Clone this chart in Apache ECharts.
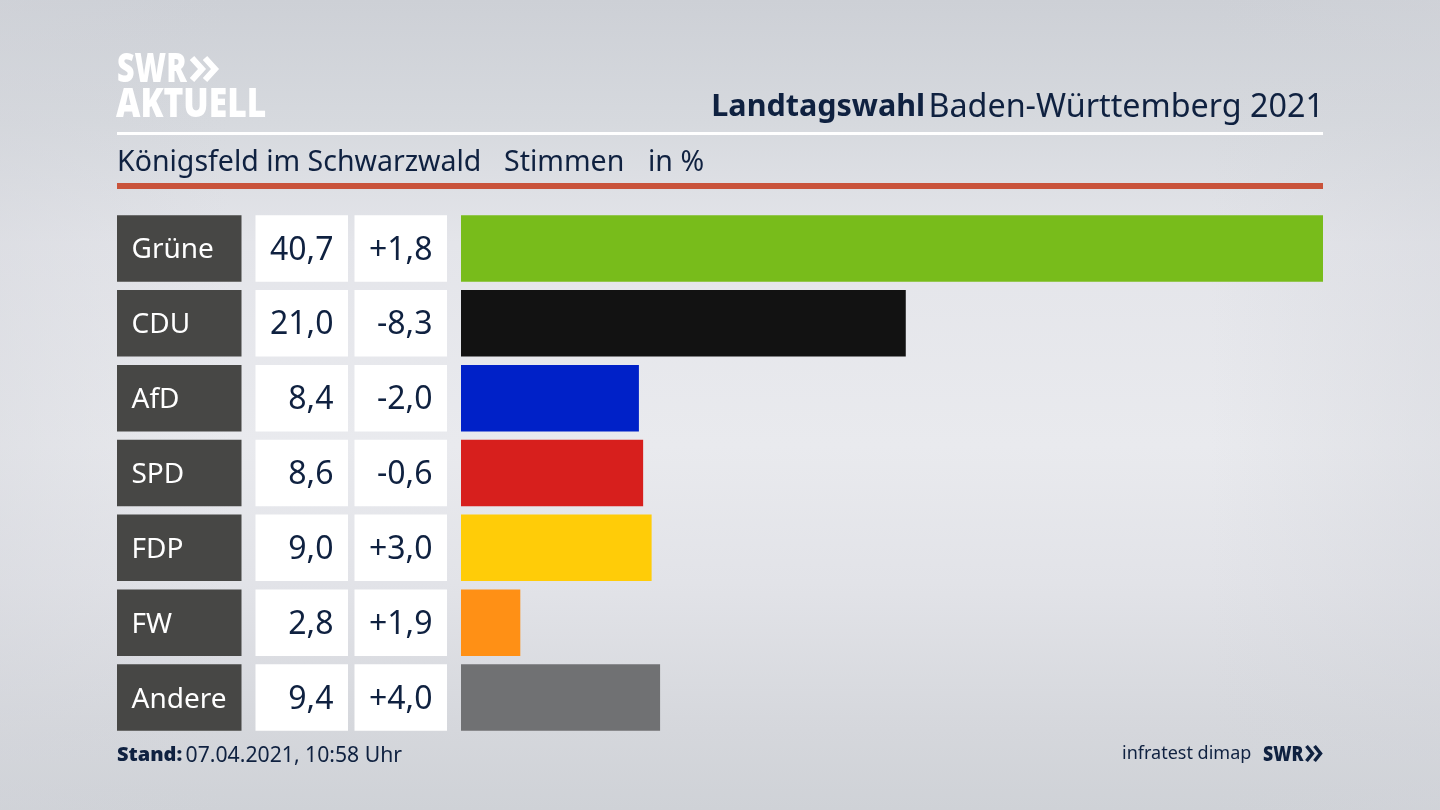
<!DOCTYPE html>
<html>
<head>
<meta charset="utf-8">
<title>Landtagswahl Baden-Württemberg 2021</title>
<script src="https://cdn.jsdelivr.net/npm/echarts@6/dist/echarts.min.js"></script>
<style>
  html, body { margin: 0; padding: 0; }
  body {
    width: 1440px;
    height: 810px;
    overflow: hidden;
    background:
      linear-gradient(90deg, rgba(210,212,218,.4) 0%, rgba(210,212,218,0) 16%, rgba(210,212,218,0) 84%, rgba(210,212,218,.4) 100%),
      linear-gradient(180deg, #cdd0d6 0%, #d6d9de 15%, #e4e5ea 30%, #e9eaee 55%, #e2e3e8 72%, #d5d7dc 90%, #cfd2d7 100%);
  }
  #chart { width: 1440px; height: 810px; }
</style>
</head>
<body>
<div id="chart"></div>
<script>
var parties = ["Grüne", "CDU", "AfD", "SPD", "FDP", "FW", "Andere"];
var shares = [40.7, 21.0, 8.4, 8.6, 9.0, 2.8, 9.4];
var changes = [1.8, -8.3, -2.0, -0.6, 3.0, 1.9, 4.0];
var partyColors = ["#78bc1b", "#121212", "#0021c8", "#d71f1d", "#ffcc08", "#ff9015", "#707173"];

var NAVY = "#0f2140";
var FONT = '"Noto Sans", "Open Sans", sans-serif';

function deNumber(v) {
  return v.toFixed(1).replace(".", ",");
}

function deChange(v) {
  return (v > 0 ? "+" : "") + deNumber(v);
}

// alle Tabellenspalten haben dieselbe Zeilenteilung wie die Balken
function yAxisFor(gridIndex) {
  return {
    type: "category",
    gridIndex: gridIndex,
    data: parties,
    inverse: true,
    show: false,
  };
}

function xAxisFor(gridIndex, max) {
  return { type: "value", gridIndex: gridIndex, min: 0, max: max, show: false };
}

// Spalte aus vollen Balken, der Text kommt als Label
function cellSeries(gridIndex, color, textColor, position, texts) {
  return {
    type: "bar",
    xAxisIndex: gridIndex,
    yAxisIndex: gridIndex,
    barWidth: 66.5,
    silent: true,
    itemStyle: { color: color },
    label: {
      show: true,
      position: position,
      distance: 14.5,
      offset: [0, 2],
      color: textColor,
      fontFamily: FONT,
      fontSize: position === "insideLeft" ? 28 : 32,
      formatter: function (p) {
        return texts[p.dataIndex];
      },
    },
    data: parties.map(function () {
      return 1;
    }),
  };
}

// schmale Logoschrift, die Breite kommt ueber scaleX
function logoText(text, x, y, size, scaleX, color) {
  return {
    type: "text",
    x: x,
    y: y,
    scaleX: scaleX,
    style: {
      text: text,
      fill: color,
      font: "900 " + size + "px " + FONT,
      textVerticalAlign: "middle",
    },
  };
}

function chevron(x, top, w, h, lineWidth, color) {
  return {
    type: "polyline",
    shape: { points: [[x, top], [x + w, top + h / 2], [x, top + h]] },
    style: { stroke: color, lineWidth: lineWidth, fill: null },
  };
}

var chartDom = document.getElementById("chart");
var myChart = echarts.init(chartDom, null, { renderer: "canvas" });

var gridTop = 211;
var gridHeight = 524;

var option = {
  animation: false,
  backgroundColor: "transparent",
  grid: [
    { left: 117, top: gridTop, width: 124.5, height: gridHeight },
    { left: 255.5, top: gridTop, width: 92.5, height: gridHeight },
    { left: 354.5, top: gridTop, width: 92.5, height: gridHeight },
    { left: 461, top: gridTop, width: 862, height: gridHeight },
  ],
  xAxis: [xAxisFor(0, 1), xAxisFor(1, 1), xAxisFor(2, 1), xAxisFor(3, 40.7)],
  yAxis: [yAxisFor(0), yAxisFor(1), yAxisFor(2), yAxisFor(3)],
  series: [
    cellSeries(0, "#474745", "#ffffff", "insideLeft", parties),
    cellSeries(1, "#ffffff", NAVY, "insideRight", shares.map(deNumber)),
    cellSeries(2, "#ffffff", NAVY, "insideRight", changes.map(deChange)),
    {
      type: "bar",
      xAxisIndex: 3,
      yAxisIndex: 3,
      barWidth: 66.5,
      silent: true,
      data: shares.map(function (v, i) {
        return { value: v, itemStyle: { color: partyColors[i] } };
      }),
    },
  ],
  graphic: [
    // Logo oben links
    logoText("SWR", 117, 71, 40, 0.76, "#ffffff"),
    chevron(192, 58, 10, 22, 6, "#ffffff"),
    chevron(205, 58, 10, 22, 6, "#ffffff"),
    logoText("AKTUELL", 116, 106, 40, 0.84, "#ffffff"),
    // Kopfzeile
    {
      type: "text",
      x: 1324,
      y: 107.5,
      style: {
        text: "{b|Landtagswahl} {r|Baden-Württemberg 2021}",
        textAlign: "right",
        textVerticalAlign: "middle",
        fill: NAVY,
        rich: {
          b: { font: "bold 30.5px " + FONT, fill: NAVY },
          r: { font: "32.3px " + FONT, fill: NAVY },
        },
      },
    },
    {
      type: "rect",
      shape: { x: 117, y: 132, width: 1206, height: 3 },
      style: { fill: "#ffffff" },
    },
    {
      type: "text",
      left: 117,
      top: 148,
      style: { text: "Königsfeld im Schwarzwald", fill: NAVY, font: "28.5px " + FONT },
    },
    {
      type: "text",
      left: 504,
      top: 148,
      style: { text: "Stimmen", fill: NAVY, font: "28.5px " + FONT },
    },
    {
      type: "text",
      left: 648,
      top: 148,
      style: { text: "in %", fill: NAVY, font: "28.5px " + FONT },
    },
    {
      type: "rect",
      shape: { x: 117, y: 183, width: 1206, height: 6 },
      style: { fill: "#c9533b" },
    },
    // Fusszeile
    {
      type: "text",
      left: 117,
      top: 745,
      style: {
        text: "{b|Stand:} {r|07.04.2021, 10:58 Uhr}",
        rich: {
          b: { font: "900 20px " + FONT, fill: NAVY },
          r: { font: "21.2px " + FONT, fill: NAVY },
        },
      },
    },
    {
      type: "text",
      left: 1122,
      top: 745,
      style: { text: "infratest dimap", fill: NAVY, font: "18px " + FONT },
    },
    logoText("SWR", 1263, 755, 21, 0.84, NAVY),
    chevron(1306.5, 746, 6, 15, 3.5, NAVY),
    chevron(1314.5, 746, 6, 15, 3.5, NAVY),
  ],
};

myChart.setOption(option);
window.addEventListener("resize", function () {
  myChart.resize();
});
</script>
</body>
</html>
